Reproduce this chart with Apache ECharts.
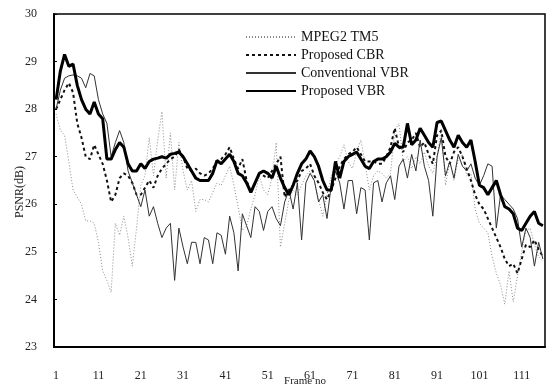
<!DOCTYPE html>
<html>
<head>
<meta charset="utf-8">
<script src="https://cdn.jsdelivr.net/npm/echarts@6/dist/echarts.min.js"></script>
<style>html,body{margin:0;padding:0;background:#fff}#c{width:546px;height:385px}</style>
</head>
<body>
<div id="c"></div>
<script>
// Frame numbers 1..116
var frames = [];
for (var i = 1; i <= 116; i++) frames.push(String(i));

var yTicks = [23, 24, 25, 26, 27, 28, 29, 30];

var mpeg2TM5 = [
 27.9, 27.55, 27.45, 26.9, 26.3, 26.15, 26.0, 25.65, 25.65, 25.6,
 25.2, 24.6, 24.4, 24.15, 25.6, 25.35, 25.75, 25.3, 24.7, 25.5,
 26.4, 26.6, 27.4, 26.6, 27.35, 27.95, 26.55, 27.5, 26.3, 27.3,
 26.7, 26.3, 26.5, 25.85, 26.1, 26.1, 26.05, 26.25, 26.45, 26.4,
 26.6, 26.8, 26.4, 25.95, 25.45, 25.55, 25.9, 26.2, 26.6, 26.3,
 26.2, 26.55, 27.3, 25.1, 25.6, 26.1, 26.3, 26.2, 26.4, 26.6,
 26.7, 26.5, 26.1, 25.75, 26.2, 26.6, 26.8, 27.0, 27.25, 26.9,
 26.75, 27.1, 27.35, 26.85, 26.3, 26.6, 26.7, 26.65, 26.55, 26.65,
 27.55, 27.7, 26.9, 27.0, 26.75, 27.0, 26.85, 27.1, 26.8, 26.65,
 27.0, 27.6, 26.4, 26.9, 26.5, 26.95, 27.05, 26.6, 26.65, 25.9,
 25.6, 25.5, 25.4, 24.9, 24.55, 24.3, 23.9, 24.6, 23.95, 24.5,
 25.0, 25.45, 25.5, 25.15, 24.9, 24.8
];

var proposedCBR = [
 28.0, 28.2, 28.4, 28.55, 28.35, 27.7, 27.4, 27.0, 26.95, 27.25,
 27.05, 26.85, 26.5, 26.05, 26.2, 26.55, 26.65, 26.6, 26.45, 26.2,
 26.2, 26.35, 26.5, 26.35, 26.6, 26.75, 26.85, 26.95, 27.0, 27.15,
 27.0, 26.75, 26.7, 26.75, 26.65, 26.6, 26.65, 26.75, 26.9, 26.95,
 27.05, 27.2, 26.95, 26.75, 26.95, 26.5, 26.25, 26.45, 26.65, 26.6,
 26.55, 26.7, 26.85, 27.0, 26.15, 26.3, 26.4, 26.5, 26.7, 26.75,
 26.85, 26.6, 26.45, 26.25, 26.1, 26.3, 26.55, 26.8, 26.95, 27.05,
 27.1, 27.2, 27.05, 26.9, 26.9, 26.9, 26.85, 26.85, 27.0, 27.2,
 27.6, 27.2, 27.1, 27.3, 27.35, 27.5, 27.2, 27.3, 27.05, 26.85,
 27.45, 27.55, 27.0, 26.85, 27.1, 27.2, 27.0, 26.75, 26.5, 26.2,
 26.0, 25.9, 25.7, 25.5, 25.3, 25.1, 24.85, 24.7, 24.75, 24.55,
 24.85, 25.15, 25.1, 25.25, 25.05, 24.9
];

var conventionalVBR = [
 28.0, 28.4, 28.65, 28.7, 28.72, 28.7, 28.65, 28.45, 28.75, 28.7,
 28.2, 27.9, 27.7, 27.0, 27.3, 27.55, 27.3, 26.7, 26.45, 26.2,
 25.95, 26.3, 25.75, 25.95, 25.6, 25.3, 25.5, 25.6, 24.4, 25.5,
 25.1, 24.75, 25.2, 25.2, 24.75, 25.3, 25.25, 24.75, 25.4, 25.35,
 24.95, 25.75, 25.4, 24.6, 25.8, 25.55, 25.3, 25.95, 25.85, 25.45,
 25.85, 25.95, 25.7, 25.55, 26.05, 26.3, 25.9, 26.45, 25.25, 26.45,
 26.65, 26.5, 26.05, 26.2, 25.7, 26.4, 26.7, 26.45, 25.9, 26.5,
 26.5, 25.8, 26.35, 26.3, 25.25, 26.45, 26.5, 26.05, 26.45, 26.6,
 26.1, 26.8, 26.95, 26.55, 27.05, 26.7, 27.35, 26.8, 26.5, 25.75,
 27.0, 27.4, 26.6, 26.9, 26.55, 27.05, 26.8, 26.7, 26.85, 26.55,
 26.4, 26.6, 26.85, 26.8, 25.5, 26.2, 26.1, 26.0, 25.9, 25.7,
 25.1, 25.5, 25.3, 24.7, 25.2, 24.85
];

var proposedVBR = [
 28.2, 28.8, 29.15, 28.9, 28.95, 28.5, 28.2, 28.0, 27.9, 28.15,
 27.9, 27.8, 26.95, 26.95, 27.15, 27.3, 27.2, 26.85, 26.7, 26.7,
 26.85, 26.75, 26.9, 26.95, 26.97, 27.0, 26.97, 27.05, 27.07, 27.1,
 27.0, 26.85, 26.7, 26.55, 26.5, 26.5, 26.5, 26.65, 26.92, 26.85,
 26.95, 27.05, 26.9, 26.65, 26.6, 26.45, 26.25, 26.45, 26.65, 26.7,
 26.65, 26.55, 26.8, 26.55, 26.35, 26.2, 26.4, 26.65, 26.85, 26.95,
 27.12, 27.0, 26.8, 26.5, 26.3, 26.3, 26.9, 26.55, 26.9, 27.0,
 27.05, 27.1, 26.95, 26.8, 26.75, 26.9, 26.95, 26.95, 27.0, 27.1,
 27.28, 27.2, 27.2, 27.7, 27.25, 27.35, 27.6, 27.45, 27.3, 27.2,
 27.72, 27.75, 27.55, 27.35, 27.2, 27.45, 27.3, 27.2, 27.35, 26.9,
 26.4, 26.35, 26.2, 26.35, 26.5, 26.2, 25.95, 25.9, 25.8, 25.5,
 25.45, 25.6, 25.75, 25.85, 25.6, 25.55
];

var seriesNames = ['MPEG2 TM5', 'Proposed CBR', 'Conventional VBR', 'Proposed VBR'];

var serif = '"Liberation Serif", "DejaVu Serif", serif';
var chart = echarts.init(document.getElementById('c'), null, {renderer: 'canvas'});
chart.setOption({
  animation: false,
  backgroundColor: '#fff',
  grid: {left: 54, right: 1, top: 14, bottom: 38, show: true, borderColor: '#000', borderWidth: 1.5,
         containLabel: false, outerBoundsMode: 'none'},
  legend: {
    orient: 'vertical', left: 240, top: 25,
    itemWidth: 50, itemHeight: 14, itemGap: 4,
    data: seriesNames,
    itemStyle: {color: 'rgba(0,0,0,0)', borderWidth: 0, opacity: 0},
    textStyle: {fontFamily: serif, fontSize: 14, color: '#111'}
  },
  xAxis: {
    type: 'category', data: frames, boundaryGap: true,
    axisLine: {lineStyle: {color: '#000', width: 2}},
    axisTick: {inside: true, length: 3, interval: 9, alignWithLabel: true, lineStyle: {color: '#000'}},
    axisLabel: {interval: 9, margin: 23, fontFamily: serif, fontSize: 12, color: '#222'},
    splitLine: {show: false}
  },
  yAxis: {
    type: 'value', min: yTicks[0], max: yTicks[yTicks.length - 1], interval: 1,
    axisLine: {show: true, lineStyle: {color: '#000', width: 2}},
    axisTick: {show: true, inside: true, length: 3, lineStyle: {color: '#000'}},
    axisLabel: {margin: 17, fontFamily: serif, fontSize: 12, color: '#222'},
    splitLine: {show: false}
  },
  graphic: [{
    type: 'text', x: 20, y: 192, rotation: Math.PI / 2,
    style: {text: 'PSNR(dB)', fontFamily: serif, fontSize: 12, fill: '#222', align: 'center', verticalAlign: 'middle'}
  }, {
    type: 'text', x: 305, y: 381,
    style: {text: 'Frame no', fontFamily: serif, fontSize: 11, fill: '#222', align: 'center', verticalAlign: 'middle'}
  }],
  series: [
    {name: seriesNames[0], type: 'line', data: mpeg2TM5, symbol: 'none', z: 1,
     lineStyle: {color: '#8a8a8a', width: 1, type: [1, 2]}, itemStyle: {color: '#8a8a8a'}},
    {name: seriesNames[1], type: 'line', data: proposedCBR, symbol: 'none', z: 2,
     lineStyle: {color: '#111', width: 2, type: [3, 3]}, itemStyle: {color: '#111'}},
    {name: seriesNames[2], type: 'line', data: conventionalVBR, symbol: 'none', z: 3,
     lineStyle: {color: '#333', width: 1}, itemStyle: {color: '#333'}},
    {name: seriesNames[3], type: 'line', data: proposedVBR, symbol: 'none', z: 4,
     lineStyle: {color: '#000', width: 3}, itemStyle: {color: '#000'}}
  ]
});
</script>
</body>
</html>
